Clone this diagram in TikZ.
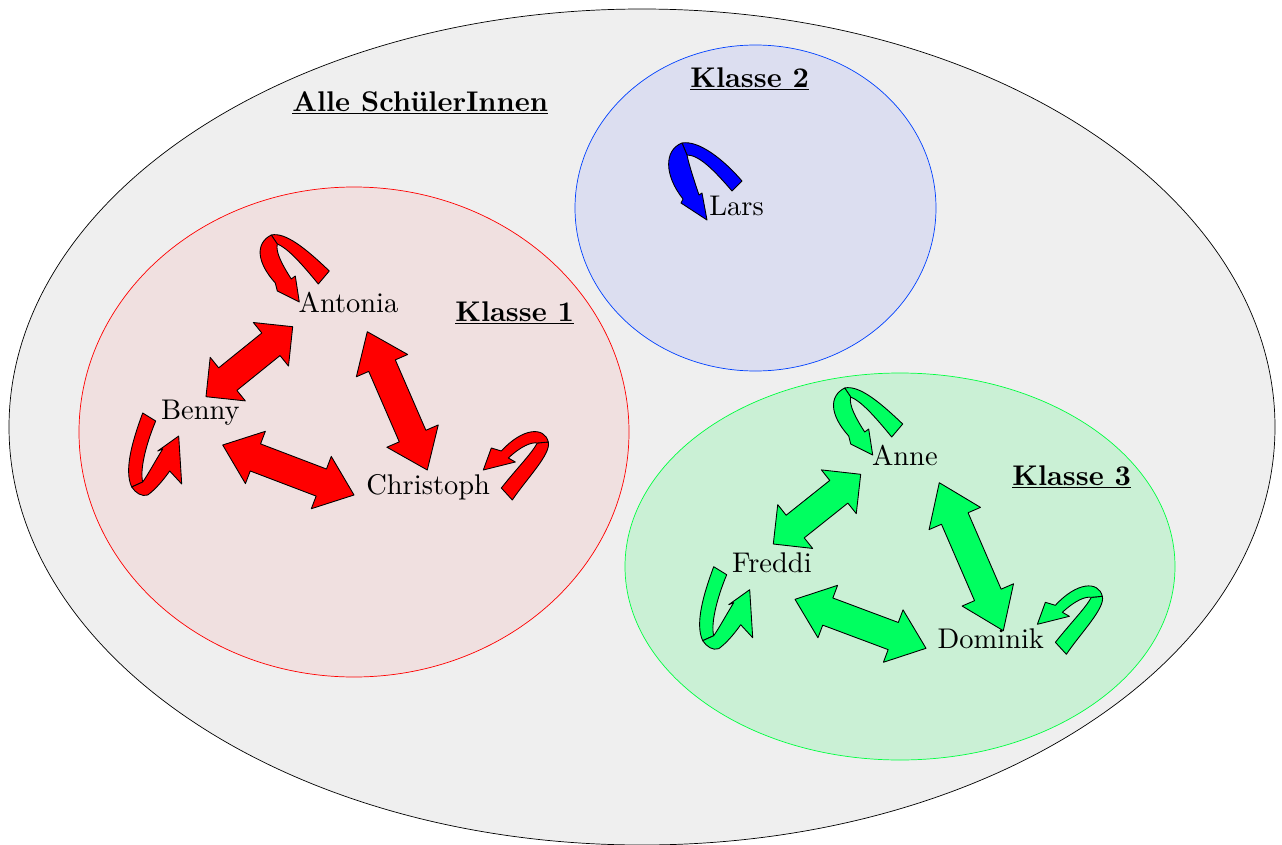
\documentclass[tikz,border=0pt]{standalone}
\usepackage{fontspec}
\setmainfont{lmroman10-regular.otf}[BoldFont=lmroman10-bold.otf]
\usetikzlibrary{calc}
\definecolor{bgray}{RGB}{239,239,239}
\definecolor{kafill}{RGB}{240,224,224}
\definecolor{kbfill}{RGB}{220,222,240}
\definecolor{kcfill}{RGB}{202,240,213}
\definecolor{kbline}{RGB}{0,64,255}
\definecolor{kcline}{RGB}{0,255,64}
\definecolor{rarrow}{RGB}{255,0,0}
\definecolor{barrow}{RGB}{0,0,255}
\definecolor{garrow}{RGB}{0,255,96}
\tikzset{
  ribbon/.style={draw=black, line width=0.5pt, line join=round},
  pname/.style={font=\fontsize{16.2}{19}\selectfont, inner sep=0pt, anchor=base west},
  ptitle/.style={font=\fontsize{16.2}{19}\selectfont\bfseries, inner sep=0pt, anchor=base west},
  pics/loopA/.style={code={
    \filldraw[fill=#1, ribbon] (31,-41) .. controls (7,-64) and (-13,-80) .. (-27,-77)
      -- (-21,-68) .. controls (-11,-64) and (2,-50) .. (20,-28) -- cycle;
    \filldraw[fill=#1, ribbon] (-27,-77) .. controls (-43,-69) and (-42,-50) .. (-23,-29)
      -- (-21,-21) -- (1,-10) -- (-3,-36) -- (-7,-33)
      .. controls (-16,-47) and (-23,-60) .. (-21,-68) -- cycle;
  }},
  pics/loopB/.style={code={
    \filldraw[fill=#1, ribbon] (-18,-6) .. controls (-28,21) and (-37,51) .. (-29,68)
      -- (-18,63) .. controls (-21,51) and (-15,26) .. (-5,2) -- cycle;
    \filldraw[fill=#1, ribbon] (-29,68) .. controls (-25,74) and (-19,78) .. (-13,76)
      .. controls (-6,71) and (2,62) .. (9,52) -- (21,65) -- (18,17) -- (-3,32) -- (2,30)
      .. controls (-6,43) and (-13,56) .. (-18,63) -- cycle;
  }},
  pics/loopC/.style={code={
    \filldraw[fill=#1, ribbon] (22,6) .. controls (36,-15) and (61,-40) .. (58,-52)
      -- (47,-51) .. controls (41,-40) and (26,-25) .. (11,-6) -- cycle;
    \filldraw[fill=#1, ribbon] (58,-52) .. controls (54,-68) and (32,-66) .. (11,-43)
      -- (1,-46) -- (-7,-24) -- (25,-32) -- (18,-36)
      .. controls (31,-48) and (41,-52) .. (47,-51) -- cycle;
  }},
  pics/loopD/.style={code={
    \filldraw[fill=#1, ribbon] (33,-34) .. controls (15,-55) and (-10,-75) .. (-27,-72)
      -- (-22,-60) .. controls (-10,-60) and (5,-45) .. (23,-24) -- cycle;
    \filldraw[fill=#1, ribbon] (-27,-72) .. controls (-45,-65) and (-45,-40) .. (-26,-16)
      -- (-28,-12) -- (-2,5) -- (-7,-22) -- (-10,-20)
      .. controls (-15,-35) and (-20,-50) .. (-22,-60) -- cycle;
  }}
}
\newcommand\fatarrow[4]{%
  \filldraw[fill=#4, ribbon]
  (#1) -- ($(#1)!#3!(#2)!0.56cm!90:(#2)$) -- ($(#1)!#3!(#2)!0.29cm!90:(#2)$)
  -- ($(#2)!#3!(#1)!0.29cm!-90:(#1)$) -- ($(#2)!#3!(#1)!0.56cm!-90:(#1)$) -- (#2)
  -- ($(#2)!#3!(#1)!0.56cm!90:(#1)$) -- ($(#2)!#3!(#1)!0.29cm!90:(#1)$)
  -- ($(#1)!#3!(#2)!0.29cm!-90:(#2)$) -- ($(#1)!#3!(#2)!0.56cm!-90:(#2)$) -- cycle;}
\begin{document}
\begin{tikzpicture}[x=0.02cm, y=-0.02cm]
\useasboundingbox (0,0) rectangle (1282,845);
% sets
\draw[black, line width=0.4pt, fill=bgray] (642,427) ellipse [x radius=633, y radius=418];
\draw[red, line width=0.4pt, fill=kafill] (354,432) ellipse [x radius=275, y radius=245];
\draw[kbline, line width=0.4pt, fill=kbfill] (755.5,208) ellipse [x radius=180.5, y radius=163];
\draw[kcline, line width=0.4pt, fill=kcfill] (900,566.5) ellipse [x radius=275, y radius=193.5];
% titles
\node[ptitle] (tall) at (292,111) {\underline{Alle SchülerInnen}};
\node[ptitle] (tk1) at (455,321) {\underline{Klasse 1}};
\node[ptitle] (tk2) at (690,87) {\underline{Klasse 2}};
\node[ptitle] (tk3) at (1012,485) {\underline{Klasse 3}};
% names
\node[pname] (Antonia) at (298.3,312) {Antonia};
\node[pname] (Benny) at (160.7,419) {Benny};
\node[pname] (Christoph) at (366,494) {Christoph};
\node[pname] (Lars) at (709,215) {Lars};
\node[pname] (Anne) at (871.7,465) {Anne};
\node[pname] (Freddi) at (731.7,572.7) {Freddi};
\node[pname] (Dominik) at (937.3,648.3) {Dominik};
% arrow end points
\coordinate (abA) at (292.7,326.7); \coordinate (abB) at (206,396.7);
\coordinate (acA) at (367.3,331.7); \coordinate (acC) at (427.3,470);
\coordinate (bcB) at (222.7,445);   \coordinate (bcC) at (354,495);
\coordinate (afA) at (860.7,474.3); \coordinate (afF) at (773.3,544);
\coordinate (adA) at (939.3,482.7); \coordinate (adD) at (1003.3,630.7);
\coordinate (fdF) at (795,599.3);   \coordinate (fdD) at (926,648.3);
% class 1
\fatarrow{abA}{abB}{0.56cm}{rarrow}
\fatarrow{acA}{acC}{0.74cm}{rarrow}
\fatarrow{bcB}{bcC}{0.70cm}{rarrow}
\pic at (Antonia.base west) {loopA=rarrow};
\pic at (Benny.base west) {loopB=rarrow};
\pic at (Christoph.base east) {loopC=rarrow};
% class 2
\pic at (Lars.base west) {loopD=barrow};
% class 3
\fatarrow{afA}{afF}{0.56cm}{garrow}
\fatarrow{adA}{adD}{0.78cm}{garrow}
\fatarrow{fdF}{fdD}{0.70cm}{garrow}
\pic at (Anne.base west) {loopA=garrow};
\pic at (Freddi.base west) {loopB=garrow};
\pic at (Dominik.base east) {loopC=garrow};
\end{tikzpicture}
\end{document}
